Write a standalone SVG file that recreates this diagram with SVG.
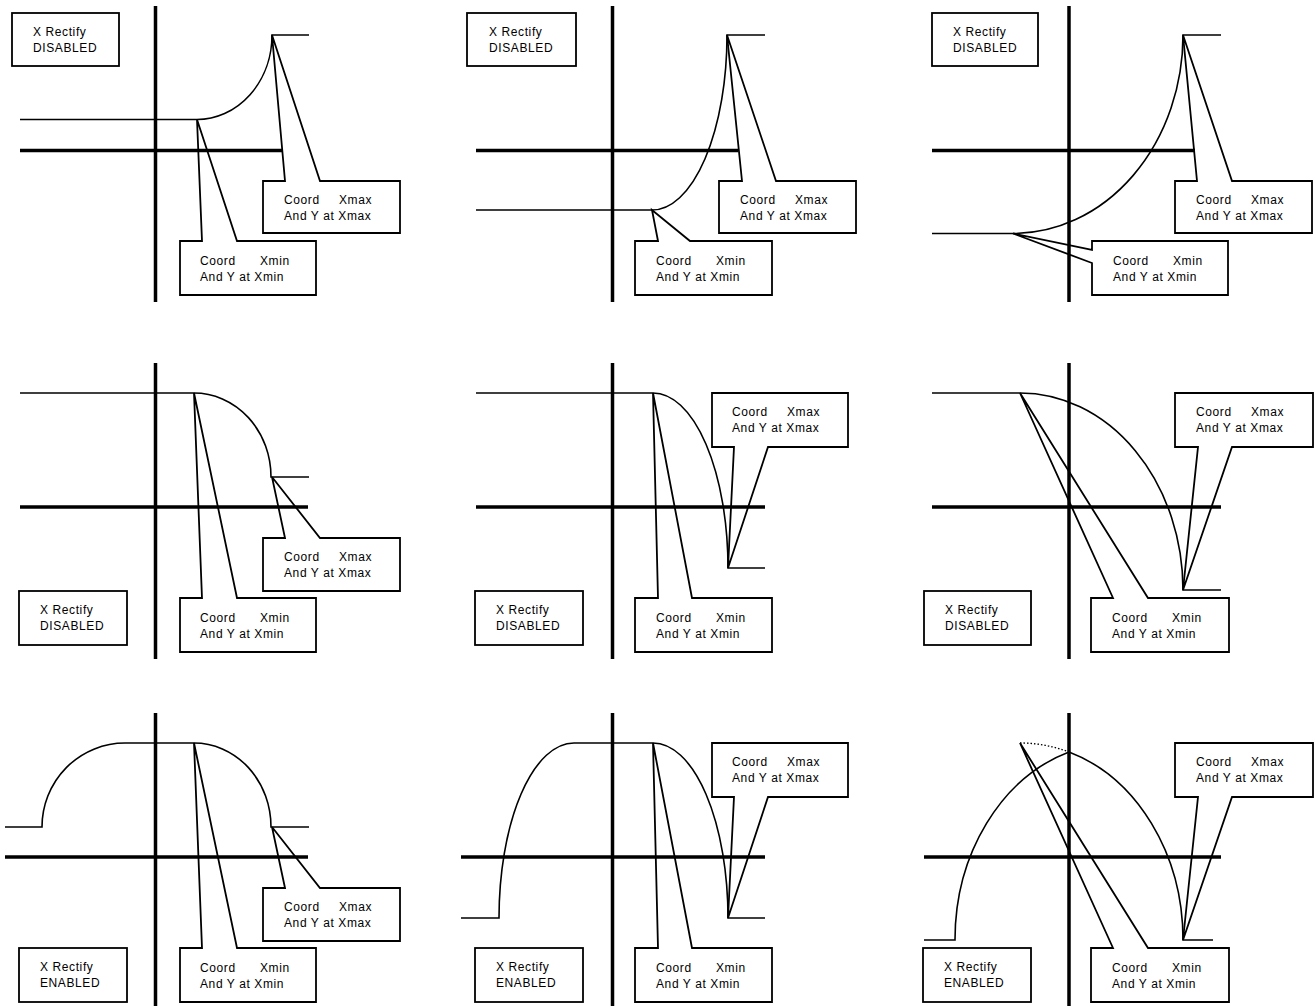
<svg xmlns="http://www.w3.org/2000/svg" width="1315" height="1006" viewBox="0 0 1315 1006">
<style>
.ax{stroke:#000;stroke-width:3.5;fill:none}
.ln{fill:none;stroke:#000;stroke-width:1.6}
.dt{fill:none;stroke:#000;stroke-width:1.4;stroke-dasharray:1.5 2}
.bx{fill:none;stroke:#000;stroke-width:1.8;stroke-linejoin:miter}
text{font-family:"Liberation Sans",Arial,sans-serif;font-size:12px;letter-spacing:0.6px;fill:#000}
</style>
<rect width="1315" height="1006" fill="#fff"/>

<g id="connectors">
  <!-- axes -->
  <line class="ax" x1="155.5" y1="6" x2="155.5" y2="302"/>
  <line class="ax" x1="20" y1="150.5" x2="283" y2="150.5"/>
  <line class="ax" x1="612.5" y1="6" x2="612.5" y2="302"/>
  <line class="ax" x1="476" y1="150.5" x2="738" y2="150.5"/>
  <line class="ax" x1="1069" y1="6" x2="1069" y2="302"/>
  <line class="ax" x1="932" y1="150.5" x2="1195" y2="150.5"/>

  <line class="ax" x1="155.5" y1="363" x2="155.5" y2="659"/>
  <line class="ax" x1="20" y1="507" x2="308" y2="507"/>
  <line class="ax" x1="612.5" y1="363" x2="612.5" y2="659"/>
  <line class="ax" x1="476" y1="507" x2="765" y2="507"/>
  <line class="ax" x1="1069" y1="363" x2="1069" y2="659"/>
  <line class="ax" x1="932" y1="507" x2="1221" y2="507"/>

  <line class="ax" x1="155.5" y1="713" x2="155.5" y2="1006"/>
  <line class="ax" x1="5" y1="857" x2="308" y2="857"/>
  <line class="ax" x1="612.5" y1="713" x2="612.5" y2="1006"/>
  <line class="ax" x1="461" y1="857" x2="765" y2="857"/>
  <line class="ax" x1="1069" y1="713" x2="1069" y2="1006"/>
  <line class="ax" x1="924" y1="857" x2="1221" y2="857"/>

  <!-- curves -->
  <path class="ln" d="M20 119.5 L197 119.5 A75 84.5 0 0 0 272 35 L309 35"/>
  <path class="ln" d="M476 210 L652 210 A75 175 0 0 0 727 35 L765 35"/>
  <path class="ln" d="M932 233.5 L1013 233.5 A170 198.5 0 0 0 1183 35 L1221 35"/>

  <path class="ln" d="M20 393 L194 393 A77 84 0 0 1 271 477 L309 477"/>
  <path class="ln" d="M476 393 L653 393 A75 175 0 0 1 728 568 L765 568"/>
  <path class="ln" d="M932 393 L1020 393 A163 197 0 0 1 1183 590 L1221 590"/>

  <path class="ln" d="M5 827 L42 827 A83 84 0 0 1 125 743 L194 743 A77 84 0 0 1 271 827 L309 827"/>
  <path class="ln" d="M461 918 L499 918 A75 175 0 0 1 574 743 L653 743 A75 175 0 0 1 728 918 L765 918"/>
  <path class="ln" d="M924 940 L955 940 A163 197 0 0 1 1069 752 A163 197 0 0 1 1183 940 L1213 940"/>
  <path class="dt" d="M1020 743 A163 197 0 0 1 1069 752"/>
</g>

<!-- Row 1 -->
<g id="p1-mode"><rect class="bx" x="12" y="13" width="107" height="53"/><text x="33" y="36">X Rectify</text><text x="33" y="52">DISABLED</text></g>
<g id="p1-xmax"><path class="bx" d="M285 181 L272 35 L320 181 L400 181 L400 233 L263 233 L263 181 Z"/><text x="284" y="204">Coord<tspan x="339">Xmax</tspan></text><text x="284" y="220">And Y at Xmax</text></g>
<g id="p1-xmin"><path class="bx" d="M202 241 L197 119.5 L237 241 L316 241 L316 295 L180 295 L180 241 Z"/><text x="200" y="265">Coord<tspan x="260">Xmin</tspan></text><text x="200" y="281">And Y at Xmin</text></g>

<g id="p2-mode"><rect class="bx" x="467" y="13" width="109" height="53"/><text x="489" y="36">X Rectify</text><text x="489" y="52">DISABLED</text></g>
<g id="p2-xmax"><path class="bx" d="M742 181 L727 35 L776 181 L856 181 L856 233 L719 233 L719 181 Z"/><text x="740" y="204">Coord<tspan x="795">Xmax</tspan></text><text x="740" y="220">And Y at Xmax</text></g>
<g id="p2-xmin"><path class="bx" d="M658 241 L652 210 L690 241 L772 241 L772 295 L635 295 L635 241 Z"/><text x="656" y="265">Coord<tspan x="716">Xmin</tspan></text><text x="656" y="281">And Y at Xmin</text></g>

<g id="p3-mode"><rect class="bx" x="932" y="13" width="106" height="53"/><text x="953" y="36">X Rectify</text><text x="953" y="52">DISABLED</text></g>
<g id="p3-xmax"><path class="bx" d="M1197 181 L1183 35 L1232 181 L1312 181 L1312 233 L1175 233 L1175 181 Z"/><text x="1196" y="204">Coord<tspan x="1251">Xmax</tspan></text><text x="1196" y="220">And Y at Xmax</text></g>
<g id="p3-xmin"><path class="bx" d="M1092 241 L1228 241 L1228 295 L1092 295 L1092 263 L1013 233.5 L1092 250 Z"/><text x="1113" y="265">Coord<tspan x="1173">Xmin</tspan></text><text x="1113" y="281">And Y at Xmin</text></g>

<!-- Row 2 -->
<g id="p4-mode"><rect class="bx" x="19" y="591" width="108" height="54"/><text x="40" y="614">X Rectify</text><text x="40" y="630">DISABLED</text></g>
<g id="p4-xmax"><path class="bx" d="M285 538 L272 477 L320 538 L400 538 L400 591 L263 591 L263 538 Z"/><text x="284" y="561">Coord<tspan x="339">Xmax</tspan></text><text x="284" y="577">And Y at Xmax</text></g>
<g id="p4-xmin"><path class="bx" d="M202 598 L194 393 L237 598 L316 598 L316 652 L180 652 L180 598 Z"/><text x="200" y="622">Coord<tspan x="260">Xmin</tspan></text><text x="200" y="638">And Y at Xmin</text></g>

<g id="p5-mode"><rect class="bx" x="475" y="591" width="108" height="54"/><text x="496" y="614">X Rectify</text><text x="496" y="630">DISABLED</text></g>
<g id="p5-xmax"><path class="bx" d="M712 393 L848 393 L848 447 L768 447 L728 568 L734 447 L712 447 Z"/><text x="732" y="416">Coord<tspan x="787">Xmax</tspan></text><text x="732" y="432">And Y at Xmax</text></g>
<g id="p5-xmin"><path class="bx" d="M658 598 L653 393 L692 598 L772 598 L772 652 L635 652 L635 598 Z"/><text x="656" y="622">Coord<tspan x="716">Xmin</tspan></text><text x="656" y="638">And Y at Xmin</text></g>

<g id="p6-mode"><rect class="bx" x="924" y="591" width="107" height="54"/><text x="945" y="614">X Rectify</text><text x="945" y="630">DISABLED</text></g>
<g id="p6-xmax"><path class="bx" d="M1175 393 L1313 393 L1313 447 L1232 447 L1183 590 L1198 447 L1175 447 Z"/><text x="1196" y="416">Coord<tspan x="1251">Xmax</tspan></text><text x="1196" y="432">And Y at Xmax</text></g>
<g id="p6-xmin"><path class="bx" d="M1113 598 L1020 393 L1148 598 L1229 598 L1229 652 L1091 652 L1091 598 Z"/><text x="1112" y="622">Coord<tspan x="1172">Xmin</tspan></text><text x="1112" y="638">And Y at Xmin</text></g>

<!-- Row 3 -->
<g id="p7-mode"><rect class="bx" x="19" y="948" width="108" height="54"/><text x="40" y="971">X Rectify</text><text x="40" y="987">ENABLED</text></g>
<g id="p7-xmax"><path class="bx" d="M285 888 L272 827 L320 888 L400 888 L400 941 L263 941 L263 888 Z"/><text x="284" y="911">Coord<tspan x="339">Xmax</tspan></text><text x="284" y="927">And Y at Xmax</text></g>
<g id="p7-xmin"><path class="bx" d="M202 948 L194 743 L237 948 L316 948 L316 1002 L180 1002 L180 948 Z"/><text x="200" y="972">Coord<tspan x="260">Xmin</tspan></text><text x="200" y="988">And Y at Xmin</text></g>

<g id="p8-mode"><rect class="bx" x="475" y="948" width="108" height="54"/><text x="496" y="971">X Rectify</text><text x="496" y="987">ENABLED</text></g>
<g id="p8-xmax"><path class="bx" d="M712 743 L848 743 L848 797 L768 797 L728 918 L734 797 L712 797 Z"/><text x="732" y="766">Coord<tspan x="787">Xmax</tspan></text><text x="732" y="782">And Y at Xmax</text></g>
<g id="p8-xmin"><path class="bx" d="M658 948 L653 743 L692 948 L772 948 L772 1002 L635 1002 L635 948 Z"/><text x="656" y="972">Coord<tspan x="716">Xmin</tspan></text><text x="656" y="988">And Y at Xmin</text></g>

<g id="p9-mode"><rect class="bx" x="923" y="948" width="108" height="54"/><text x="944" y="971">X Rectify</text><text x="944" y="987">ENABLED</text></g>
<g id="p9-xmax"><path class="bx" d="M1175 743 L1313 743 L1313 797 L1232 797 L1183 940 L1198 797 L1175 797 Z"/><text x="1196" y="766">Coord<tspan x="1251">Xmax</tspan></text><text x="1196" y="782">And Y at Xmax</text></g>
<g id="p9-xmin"><path class="bx" d="M1113 948 L1020 743 L1148 948 L1229 948 L1229 1002 L1091 1002 L1091 948 Z"/><text x="1112" y="972">Coord<tspan x="1172">Xmin</tspan></text><text x="1112" y="988">And Y at Xmin</text></g>
</svg>
